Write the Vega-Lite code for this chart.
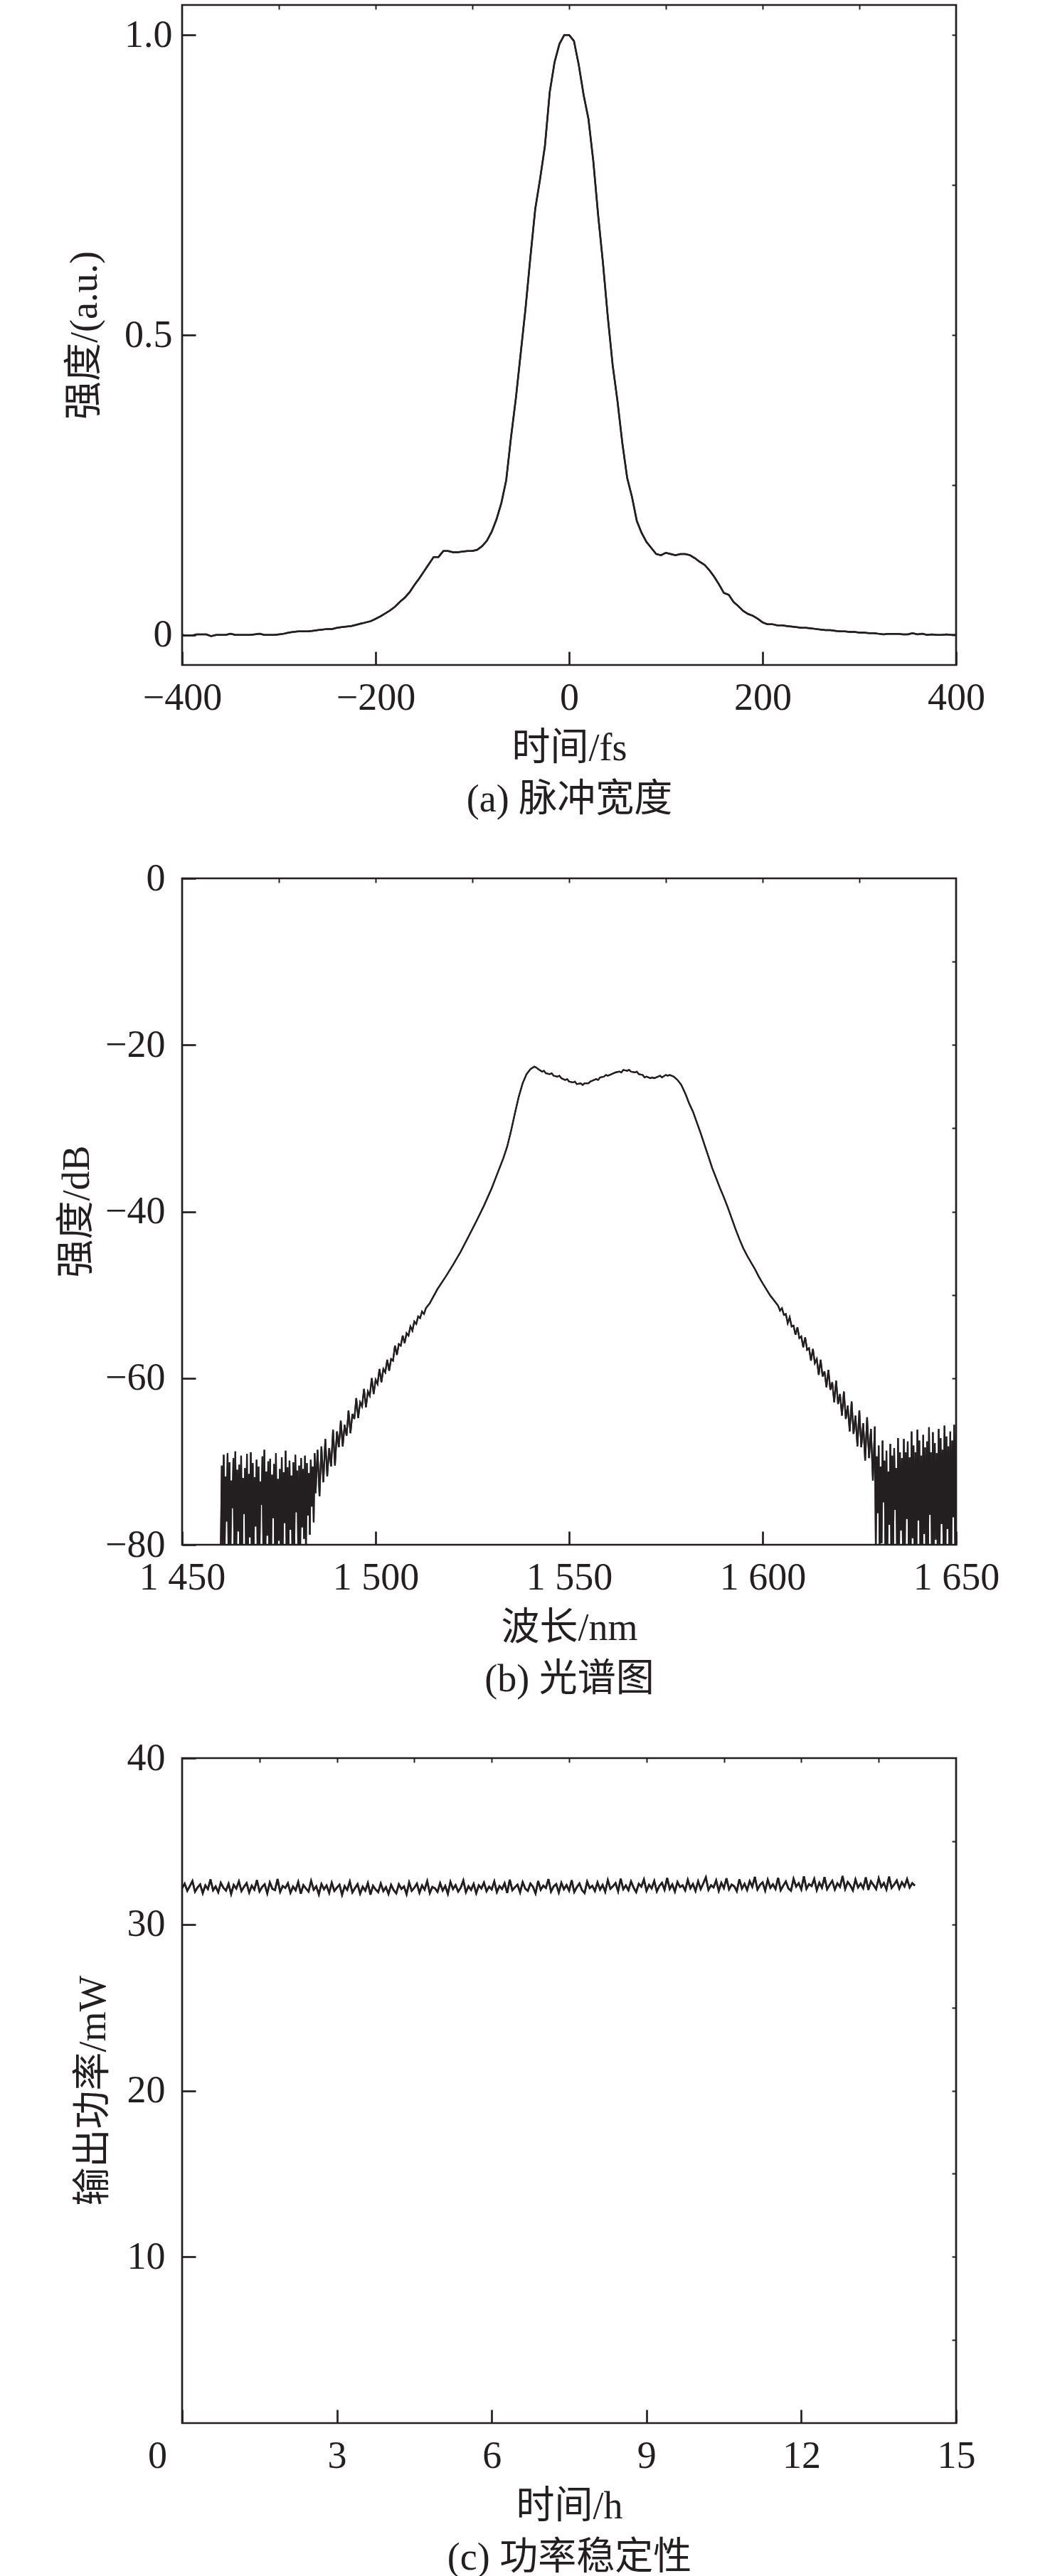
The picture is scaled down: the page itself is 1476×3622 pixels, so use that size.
{
  "$schema": "https://vega.github.io/schema/vega-lite/v6.json",
  "background": "white",
  "padding": {"left": 79, "top": 4, "right": 10, "bottom": 10},
  "config": {
    "view": {"stroke": "#231f20", "strokeWidth": 2.7},
    "line": {"color": "#231f20", "strokeWidth": 2.5},
    "axis": {
      "grid": false,
      "domain": false,
      "tickSize": 19,
      "tickWidth": 2.7,
      "tickColor": "#231f20",
      "labelFont": "Liberation Serif",
      "labelFontSize": 54,
      "labelColor": "#231f20",
      "labelFlush": false,
      "labelOverlap": false,
      "titleFont": "Liberation Serif, Noto Sans CJK SC",
      "titleFontSize": 54,
      "titleFontWeight": "normal",
      "titleColor": "#231f20"
    }
  },
  "datasets": {
    "pulse": [
      {"t":-400,"v":0.000},{"t":-395,"v":-0.001},{"t":-390,"v":-0.001},{"t":-385,"v":0.001},{"t":-380,"v":0.001},{"t":-375,"v":0.001},{"t":-370,"v":-0.002},{"t":-365,"v":0.000},{"t":-360,"v":0.000},{"t":-355,"v":0.000},{"t":-350,"v":0.002},{"t":-345,"v":0.000},{"t":-340,"v":0.000},{"t":-335,"v":0.000},{"t":-330,"v":0.000},{"t":-325,"v":0.001},{"t":-320,"v":0.002},{"t":-315,"v":0.000},{"t":-310,"v":0.000},{"t":-305,"v":0.000},{"t":-300,"v":0.001},{"t":-295,"v":0.002},{"t":-290,"v":0.004},{"t":-285,"v":0.005},{"t":-280,"v":0.006},{"t":-275,"v":0.006},{"t":-270,"v":0.006},{"t":-265,"v":0.007},{"t":-260,"v":0.008},{"t":-255,"v":0.009},{"t":-250,"v":0.010},{"t":-245,"v":0.010},{"t":-240,"v":0.012},{"t":-235,"v":0.013},{"t":-230,"v":0.014},{"t":-225,"v":0.015},{"t":-220,"v":0.017},{"t":-215,"v":0.019},{"t":-210,"v":0.021},{"t":-205,"v":0.023},{"t":-200,"v":0.027},{"t":-195,"v":0.031},{"t":-190,"v":0.036},{"t":-185,"v":0.041},{"t":-180,"v":0.047},{"t":-175,"v":0.055},{"t":-170,"v":0.062},{"t":-165,"v":0.071},{"t":-160,"v":0.083},{"t":-155,"v":0.094},{"t":-150,"v":0.106},{"t":-145,"v":0.118},{"t":-140,"v":0.130},{"t":-135,"v":0.130},{"t":-130,"v":0.140},{"t":-125,"v":0.140},{"t":-120,"v":0.138},{"t":-115,"v":0.138},{"t":-110,"v":0.139},{"t":-105,"v":0.140},{"t":-100,"v":0.140},{"t":-95,"v":0.142},{"t":-90,"v":0.148},{"t":-85,"v":0.157},{"t":-80,"v":0.172},{"t":-75,"v":0.193},{"t":-70,"v":0.220},{"t":-65,"v":0.258},{"t":-60,"v":0.330},{"t":-55,"v":0.395},{"t":-50,"v":0.470},{"t":-45,"v":0.545},{"t":-40,"v":0.630},{"t":-35,"v":0.710},{"t":-30,"v":0.760},{"t":-25,"v":0.815},{"t":-20,"v":0.905},{"t":-15,"v":0.955},{"t":-10,"v":0.985},{"t":-5,"v":1.000},{"t":0,"v":1.000},{"t":5,"v":0.990},{"t":10,"v":0.950},{"t":15,"v":0.900},{"t":20,"v":0.860},{"t":25,"v":0.790},{"t":30,"v":0.700},{"t":35,"v":0.620},{"t":40,"v":0.530},{"t":45,"v":0.450},{"t":50,"v":0.390},{"t":55,"v":0.320},{"t":60,"v":0.262},{"t":65,"v":0.230},{"t":70,"v":0.190},{"t":75,"v":0.170},{"t":80,"v":0.155},{"t":85,"v":0.145},{"t":90,"v":0.135},{"t":95,"v":0.133},{"t":100,"v":0.137},{"t":105,"v":0.135},{"t":110,"v":0.133},{"t":115,"v":0.135},{"t":120,"v":0.135},{"t":125,"v":0.133},{"t":130,"v":0.128},{"t":135,"v":0.122},{"t":140,"v":0.117},{"t":145,"v":0.108},{"t":150,"v":0.097},{"t":155,"v":0.084},{"t":160,"v":0.070},{"t":165,"v":0.067},{"t":170,"v":0.055},{"t":175,"v":0.048},{"t":180,"v":0.040},{"t":185,"v":0.035},{"t":190,"v":0.032},{"t":195,"v":0.027},{"t":200,"v":0.021},{"t":205,"v":0.018},{"t":210,"v":0.018},{"t":215,"v":0.016},{"t":220,"v":0.016},{"t":225,"v":0.015},{"t":230,"v":0.014},{"t":235,"v":0.013},{"t":240,"v":0.012},{"t":245,"v":0.012},{"t":250,"v":0.011},{"t":255,"v":0.010},{"t":260,"v":0.009},{"t":265,"v":0.008},{"t":270,"v":0.008},{"t":275,"v":0.007},{"t":280,"v":0.006},{"t":285,"v":0.006},{"t":290,"v":0.005},{"t":295,"v":0.005},{"t":300,"v":0.004},{"t":305,"v":0.004},{"t":310,"v":0.003},{"t":315,"v":0.003},{"t":320,"v":0.002},{"t":325,"v":0.001},{"t":330,"v":0.002},{"t":335,"v":0.002},{"t":340,"v":0.002},{"t":345,"v":0.001},{"t":350,"v":0.001},{"t":355,"v":0.003},{"t":360,"v":0.001},{"t":365,"v":0.002},{"t":370,"v":0.000},{"t":375,"v":0.001},{"t":380,"v":0.000},{"t":385,"v":0.000},{"t":390,"v":0.001},{"t":395,"v":0.000},{"t":400,"v":0.000}
    ],
    "spectrum": [
      {"nm":1460,"db":-80.2},{"nm":1460.25,"db":-70.5},{"nm":1460.5,"db":-81},{"nm":1460.75,"db":-69.2},{"nm":1461,"db":-80.5},{"nm":1461.25,"db":-71.8},{"nm":1461.5,"db":-77.2},{"nm":1461.75,"db":-69.0},{"nm":1462,"db":-82},{"nm":1462.25,"db":-70.1},{"nm":1462.5,"db":-80.8},{"nm":1462.75,"db":-72.3},{"nm":1463,"db":-75.6},{"nm":1463.25,"db":-69.6},{"nm":1463.5,"db":-81.5},{"nm":1463.75,"db":-68.8},{"nm":1464,"db":-80.2},{"nm":1464.25,"db":-71.0},{"nm":1464.5,"db":-78.4},{"nm":1464.75,"db":-70.4},{"nm":1465,"db":-82},{"nm":1465.25,"db":-69.3},{"nm":1465.5,"db":-81},{"nm":1465.75,"db":-72.0},{"nm":1466,"db":-76.3},{"nm":1466.25,"db":-70.8},{"nm":1466.5,"db":-80.6},{"nm":1466.75,"db":-69.1},{"nm":1467,"db":-81.8},{"nm":1467.25,"db":-71.5},{"nm":1467.5,"db":-79.1},{"nm":1467.75,"db":-68.9},{"nm":1468,"db":-82},{"nm":1468.25,"db":-70.2},{"nm":1468.5,"db":-80.3},{"nm":1468.75,"db":-71.9},{"nm":1469,"db":-77.8},{"nm":1469.25,"db":-69.8},{"nm":1469.5,"db":-81.2},{"nm":1469.75,"db":-70.6},{"nm":1470,"db":-80.9},{"nm":1470.25,"db":-72.4},{"nm":1470.5,"db":-75.2},{"nm":1470.75,"db":-69.4},{"nm":1471,"db":-81.6},{"nm":1471.25,"db":-68.6},{"nm":1471.5,"db":-82},{"nm":1471.75,"db":-71.2},{"nm":1472,"db":-78.9},{"nm":1472.25,"db":-70.0},{"nm":1472.5,"db":-80.4},{"nm":1472.75,"db":-69.7},{"nm":1473,"db":-81.3},{"nm":1473.25,"db":-71.6},{"nm":1473.5,"db":-76.8},{"nm":1473.75,"db":-70.3},{"nm":1474,"db":-80.7},{"nm":1474.25,"db":-69.0},{"nm":1474.5,"db":-82},{"nm":1474.75,"db":-72.1},{"nm":1475,"db":-79.5},{"nm":1475.25,"db":-70.9},{"nm":1475.5,"db":-81.1},{"nm":1475.75,"db":-69.5},{"nm":1476,"db":-80.2},{"nm":1476.25,"db":-71.3},{"nm":1476.5,"db":-77.4},{"nm":1476.75,"db":-68.7},{"nm":1477,"db":-81.9},{"nm":1477.25,"db":-70.7},{"nm":1477.5,"db":-80.5},{"nm":1477.75,"db":-69.9},{"nm":1478,"db":-78.2},{"nm":1478.25,"db":-71.7},{"nm":1478.5,"db":-81.4},{"nm":1478.75,"db":-70.1},{"nm":1479,"db":-80.1},{"nm":1479.25,"db":-69.2},{"nm":1479.5,"db":-76.1},{"nm":1479.75,"db":-71.1},{"nm":1480,"db":-80.8},{"nm":1480.25,"db":-70.5},{"nm":1480.5,"db":-81.7},{"nm":1480.75,"db":-69.6},{"nm":1481,"db":-77.9},{"nm":1481.25,"db":-70.9},{"nm":1481.5,"db":-79.3},{"nm":1481.75,"db":-69.3},{"nm":1482,"db":-80.6},{"nm":1482.25,"db":-70.2},{"nm":1482.5,"db":-76.5},{"nm":1482.75,"db":-71.4},{"nm":1483,"db":-78.8},{"nm":1483.25,"db":-69.8},{"nm":1483.5,"db":-75.4},{"nm":1483.75,"db":-70.6},{"nm":1484,"db":-77.3},{"nm":1484.25,"db":-69.0},
      {"nm":1484.5,"db":-73.8},{"nm":1485,"db":-68.6},{"nm":1485.5,"db":-74.2},{"nm":1486,"db":-68.2},{"nm":1486.5,"db":-72.5},{"nm":1487,"db":-67.3},{"nm":1487.5,"db":-71.8},{"nm":1488,"db":-68.4},{"nm":1488.5,"db":-70.6},{"nm":1489,"db":-66.2},{"nm":1489.5,"db":-70.5},{"nm":1490,"db":-66.4},{"nm":1490.5,"db":-68.3},{"nm":1491,"db":-65.1},{"nm":1491.5,"db":-68.2},{"nm":1492,"db":-65.6},{"nm":1492.5,"db":-66.9},{"nm":1493,"db":-63.9},{"nm":1493.5,"db":-66.6},{"nm":1494,"db":-64.3},{"nm":1494.5,"db":-64.9},{"nm":1495,"db":-62.4},{"nm":1495.5,"db":-64.8},{"nm":1496,"db":-62.9},{"nm":1496.5,"db":-63.4},{"nm":1497,"db":-61.3},{"nm":1497.5,"db":-63.5},{"nm":1498,"db":-61.6},{"nm":1498.5,"db":-62.1},{"nm":1499,"db":-60.0},{"nm":1499.5,"db":-61.9},{"nm":1500,"db":-60.2},{"nm":1500.5,"db":-60.7},{"nm":1501,"db":-58.9},{"nm":1501.5,"db":-60.5},{"nm":1502,"db":-58.9},{"nm":1502.5,"db":-59.3},{"nm":1503,"db":-57.8},{"nm":1503.5,"db":-59.1},{"nm":1504,"db":-57.7},{"nm":1504.5,"db":-57.9},{"nm":1505,"db":-56.1},{"nm":1505.5,"db":-57.2},{"nm":1506,"db":-55.9},{"nm":1506.5,"db":-56.1},{"nm":1507,"db":-54.9},{"nm":1507.5,"db":-55.8},{"nm":1508,"db":-54.6},{"nm":1508.5,"db":-54.9},{"nm":1509,"db":-53.8},{"nm":1509.5,"db":-54.3},{"nm":1510,"db":-53.2},{"nm":1510.5,"db":-53.5},{"nm":1511,"db":-52.6},{"nm":1511.5,"db":-52.8},{"nm":1512,"db":-52.0},{"nm":1512.5,"db":-52.3},{"nm":1513,"db":-51.6},{"nm":1514,"db":-51.0},
      {"nm":1516,"db":-49.3},{"nm":1518,"db":-47.9},{"nm":1520,"db":-46.4},{"nm":1522,"db":-44.8},{"nm":1524,"db":-43.0},{"nm":1526,"db":-41.2},{"nm":1528,"db":-39.3},{"nm":1530,"db":-37.2},{"nm":1531,"db":-36.0},{"nm":1532,"db":-34.8},{"nm":1533,"db":-33.6},{"nm":1534,"db":-32.2},{"nm":1535,"db":-30.3},{"nm":1536,"db":-28.2},{"nm":1537,"db":-26.2},{"nm":1538,"db":-24.6},{"nm":1539,"db":-23.5},{"nm":1540,"db":-22.9},{"nm":1541,"db":-22.6},{"nm":1541.5,"db":-22.7},{"nm":1542,"db":-22.9},{"nm":1543,"db":-23.2},{"nm":1543.5,"db":-23.1},{"nm":1544,"db":-23.4},{"nm":1545,"db":-23.5},{"nm":1545.5,"db":-23.4},{"nm":1546,"db":-23.7},{"nm":1547,"db":-23.8},{"nm":1547.5,"db":-23.7},{"nm":1548,"db":-24.0},{"nm":1549,"db":-24.2},{"nm":1549.5,"db":-24.1},{"nm":1550,"db":-24.4},{"nm":1551,"db":-24.5},{"nm":1551.5,"db":-24.4},{"nm":1552,"db":-24.7},{"nm":1553,"db":-24.6},{"nm":1553.5,"db":-24.8},{"nm":1554,"db":-24.6},{"nm":1555,"db":-24.6},{"nm":1555.5,"db":-24.4},{"nm":1556,"db":-24.3},{"nm":1557,"db":-24.1},{"nm":1557.5,"db":-24.2},{"nm":1558,"db":-23.9},{"nm":1559,"db":-23.8},{"nm":1559.5,"db":-23.6},{"nm":1560,"db":-23.7},{"nm":1561,"db":-23.5},{"nm":1561.5,"db":-23.4},{"nm":1562,"db":-23.3},{"nm":1563,"db":-23.2},{"nm":1563.5,"db":-23.3},{"nm":1564,"db":-23.0},{"nm":1565,"db":-23.1},{"nm":1565.5,"db":-23.0},{"nm":1566,"db":-23.2},{"nm":1567,"db":-23.3},{"nm":1567.5,"db":-23.2},{"nm":1568,"db":-23.5},{"nm":1569,"db":-23.6},{"nm":1569.5,"db":-23.9},{"nm":1570,"db":-23.8},{"nm":1571,"db":-24.0},{"nm":1571.5,"db":-23.9},{"nm":1572,"db":-24.0},{"nm":1573,"db":-23.8},{"nm":1573.5,"db":-23.7},{"nm":1574,"db":-23.9},{"nm":1575,"db":-23.6},{"nm":1575.5,"db":-23.7},{"nm":1576,"db":-23.6},{"nm":1577,"db":-23.8},{"nm":1578,"db":-24.2},{"nm":1579,"db":-24.8},{"nm":1580,"db":-25.8},{"nm":1581,"db":-27.0},{"nm":1582,"db":-28.0},{"nm":1583,"db":-29.3},{"nm":1584,"db":-30.6},{"nm":1585,"db":-32.0},{"nm":1586,"db":-33.4},{"nm":1587,"db":-34.8},{"nm":1588,"db":-36.0},{"nm":1589,"db":-37.2},{"nm":1590,"db":-38.3},{"nm":1591,"db":-39.5},{"nm":1592,"db":-40.8},{"nm":1593,"db":-42.1},{"nm":1594,"db":-43.3},{"nm":1595,"db":-44.4},{"nm":1596,"db":-45.3},{"nm":1597,"db":-46.1},{"nm":1598,"db":-46.9},{"nm":1599,"db":-47.8},{"nm":1600,"db":-48.6},{"nm":1602,"db":-50.1},{"nm":1604,"db":-51.3},
      {"nm":1604.5,"db":-51.9},{"nm":1605,"db":-51.6},{"nm":1605.5,"db":-52.4},{"nm":1606,"db":-52.3},{"nm":1606.5,"db":-53.4},{"nm":1607,"db":-52.7},{"nm":1607.5,"db":-53.8},{"nm":1608,"db":-53.7},{"nm":1608.5,"db":-54.8},{"nm":1609,"db":-53.9},{"nm":1609.5,"db":-55.2},{"nm":1610,"db":-55.0},{"nm":1610.5,"db":-56.3},{"nm":1611,"db":-55.1},{"nm":1611.5,"db":-56.6},{"nm":1612,"db":-56.4},{"nm":1612.5,"db":-57.9},{"nm":1613,"db":-56.5},{"nm":1613.5,"db":-58.2},{"nm":1614,"db":-57.7},{"nm":1614.5,"db":-59.6},{"nm":1615,"db":-57.8},{"nm":1615.5,"db":-59.8},{"nm":1616,"db":-59.2},{"nm":1616.5,"db":-61.1},{"nm":1617,"db":-59.0},{"nm":1617.5,"db":-61.4},{"nm":1618,"db":-60.5},{"nm":1618.5,"db":-62.9},{"nm":1619,"db":-60.3},{"nm":1619.5,"db":-63.1},{"nm":1620,"db":-61.9},{"nm":1620.5,"db":-64.5},{"nm":1621,"db":-61.6},{"nm":1621.5,"db":-64.9},{"nm":1622,"db":-63.3},{"nm":1622.5,"db":-66.4},{"nm":1623,"db":-62.8},{"nm":1623.5,"db":-66.7},{"nm":1624,"db":-64.5},{"nm":1624.5,"db":-68.2},{"nm":1625,"db":-63.9},{"nm":1625.5,"db":-68.3},{"nm":1626,"db":-65.4},{"nm":1626.5,"db":-69.9},{"nm":1627,"db":-64.7},{"nm":1627.5,"db":-69.6},{"nm":1628,"db":-66.1},{"nm":1628.5,"db":-72.3},{"nm":1629,"db":-65.8},
      {"nm":1629.25,"db":-80.5},{"nm":1629.5,"db":-69.4},{"nm":1629.75,"db":-76.2},{"nm":1630,"db":-68.1},{"nm":1630.25,"db":-81.3},{"nm":1630.5,"db":-70.6},{"nm":1630.75,"db":-79.8},{"nm":1631,"db":-67.5},{"nm":1631.25,"db":-74.9},{"nm":1631.5,"db":-69.9},{"nm":1631.75,"db":-82},{"nm":1632,"db":-68.7},{"nm":1632.25,"db":-80.4},{"nm":1632.5,"db":-71.2},{"nm":1632.75,"db":-77.6},{"nm":1633,"db":-67.9},{"nm":1633.25,"db":-81.1},{"nm":1633.5,"db":-69.3},{"nm":1633.75,"db":-80.2},{"nm":1634,"db":-68.4},{"nm":1634.25,"db":-75.8},{"nm":1634.5,"db":-70.8},{"nm":1634.75,"db":-81.7},{"nm":1635,"db":-67.2},{"nm":1635.25,"db":-82},{"nm":1635.5,"db":-68.9},{"nm":1635.75,"db":-78.3},{"nm":1636,"db":-69.6},{"nm":1636.25,"db":-80.6},{"nm":1636.5,"db":-67.3},{"nm":1636.75,"db":-81.4},{"nm":1637,"db":-68.9},{"nm":1637.25,"db":-76.9},{"nm":1637.5,"db":-67.6},{"nm":1637.75,"db":-80.1},{"nm":1638,"db":-69.5},{"nm":1638.25,"db":-82},{"nm":1638.5,"db":-66.4},{"nm":1638.75,"db":-79.2},{"nm":1639,"db":-68.1},{"nm":1639.25,"db":-80.8},{"nm":1639.5,"db":-68.9},{"nm":1639.75,"db":-81.5},{"nm":1640,"db":-66.2},{"nm":1640.25,"db":-77.1},{"nm":1640.5,"db":-67.5},{"nm":1640.75,"db":-80.3},{"nm":1641,"db":-69.3},{"nm":1641.25,"db":-81.9},{"nm":1641.5,"db":-66.8},{"nm":1641.75,"db":-78.7},{"nm":1642,"db":-68.3},{"nm":1642.25,"db":-80.5},{"nm":1642.5,"db":-67.6},{"nm":1642.75,"db":-82},{"nm":1643,"db":-65.9},{"nm":1643.25,"db":-76.4},{"nm":1643.5,"db":-68.9},{"nm":1643.75,"db":-81.2},{"nm":1644,"db":-66.5},{"nm":1644.25,"db":-80.7},{"nm":1644.5,"db":-67.8},{"nm":1644.75,"db":-79.4},{"nm":1645,"db":-69.0},{"nm":1645.25,"db":-81.8},{"nm":1645.5,"db":-66.1},{"nm":1645.75,"db":-80.2},{"nm":1646,"db":-67.2},{"nm":1646.25,"db":-77.5},{"nm":1646.5,"db":-68.6},{"nm":1646.75,"db":-81.1},{"nm":1647,"db":-65.7},{"nm":1647.25,"db":-82},{"nm":1647.5,"db":-67.0},{"nm":1647.75,"db":-78.1},{"nm":1648,"db":-68.2},{"nm":1648.25,"db":-80.9},{"nm":1648.5,"db":-66.4},{"nm":1648.75,"db":-81.6},{"nm":1649,"db":-67.5},{"nm":1649.25,"db":-76.7},{"nm":1649.5,"db":-65.6},{"nm":1649.75,"db":-80.4},{"nm":1650,"db":-66.8}
    ],
    "power": [
      {"h":0,"mw":32.18},{"h":0.05,"mw":32.45},{"h":0.1,"mw":32.02},{"h":0.15,"mw":32.30},{"h":0.2,"mw":32.61},{"h":0.25,"mw":31.96},{"h":0.3,"mw":32.22},{"h":0.35,"mw":32.40},{"h":0.4,"mw":31.88},{"h":0.45,"mw":32.35},{"h":0.5,"mw":32.12},{"h":0.55,"mw":32.70},{"h":0.6,"mw":32.05},{"h":0.65,"mw":32.28},{"h":0.7,"mw":31.93},{"h":0.75,"mw":32.50},{"h":0.8,"mw":32.20},{"h":0.85,"mw":32.03},{"h":0.9,"mw":32.44},{"h":0.95,"mw":31.82},{"h":1,"mw":32.37},{"h":1.05,"mw":32.15},{"h":1.1,"mw":32.58},{"h":1.15,"mw":32.00},{"h":1.2,"mw":32.26},{"h":1.25,"mw":32.48},{"h":1.3,"mw":31.91},{"h":1.35,"mw":32.33},{"h":1.4,"mw":32.09},{"h":1.45,"mw":32.66},{"h":1.5,"mw":31.98},{"h":1.55,"mw":32.24},{"h":1.6,"mw":32.41},{"h":1.65,"mw":31.87},{"h":1.7,"mw":32.52},{"h":1.75,"mw":32.14},{"h":1.8,"mw":32.06},{"h":1.85,"mw":32.73},{"h":1.9,"mw":31.95},{"h":1.95,"mw":32.31},{"h":2,"mw":32.19},
      {"h":2.05,"mw":32.47},{"h":2.1,"mw":31.90},{"h":2.15,"mw":32.27},{"h":2.2,"mw":32.05},{"h":2.25,"mw":32.55},{"h":2.3,"mw":31.84},{"h":2.35,"mw":32.36},{"h":2.4,"mw":32.16},{"h":2.45,"mw":31.97},{"h":2.5,"mw":32.62},{"h":2.55,"mw":32.08},{"h":2.6,"mw":32.29},{"h":2.65,"mw":31.80},{"h":2.7,"mw":32.43},{"h":2.75,"mw":32.11},{"h":2.8,"mw":32.34},{"h":2.85,"mw":31.89},{"h":2.9,"mw":32.50},{"h":2.95,"mw":32.01},{"h":3,"mw":32.21},{"h":3.05,"mw":32.39},{"h":3.1,"mw":31.77},{"h":3.15,"mw":32.30},{"h":3.2,"mw":32.07},{"h":3.25,"mw":32.57},{"h":3.3,"mw":31.92},{"h":3.35,"mw":32.18},{"h":3.4,"mw":32.42},{"h":3.45,"mw":31.85},{"h":3.5,"mw":32.26},{"h":3.55,"mw":32.03},{"h":3.6,"mw":32.49},{"h":3.65,"mw":31.79},{"h":3.7,"mw":32.32},{"h":3.75,"mw":32.10},{"h":3.8,"mw":31.94},{"h":3.85,"mw":32.46},{"h":3.9,"mw":32.00},{"h":3.95,"mw":32.24},{"h":4,"mw":31.83},
      {"h":4.05,"mw":32.38},{"h":4.1,"mw":32.06},{"h":4.15,"mw":31.86},{"h":4.2,"mw":32.41},{"h":4.25,"mw":32.13},{"h":4.3,"mw":32.28},{"h":4.35,"mw":31.81},{"h":4.4,"mw":32.52},{"h":4.45,"mw":32.02},{"h":4.5,"mw":32.20},{"h":4.55,"mw":32.45},{"h":4.6,"mw":31.90},{"h":4.65,"mw":32.34},{"h":4.7,"mw":32.09},{"h":4.75,"mw":32.60},{"h":4.8,"mw":31.88},{"h":4.85,"mw":32.25},{"h":4.9,"mw":32.17},{"h":4.95,"mw":31.95},{"h":5,"mw":32.48},{"h":5.05,"mw":32.04},{"h":5.1,"mw":32.31},{"h":5.15,"mw":31.84},{"h":5.2,"mw":32.55},{"h":5.25,"mw":32.12},{"h":5.3,"mw":32.36},{"h":5.35,"mw":31.97},{"h":5.4,"mw":32.21},{"h":5.45,"mw":32.64},{"h":5.5,"mw":31.93},{"h":5.55,"mw":32.29},{"h":5.6,"mw":32.07},{"h":5.65,"mw":32.43},{"h":5.7,"mw":31.87},{"h":5.75,"mw":32.35},{"h":5.8,"mw":32.16},{"h":5.85,"mw":32.51},{"h":5.9,"mw":31.99},{"h":5.95,"mw":32.27},{"h":6,"mw":32.10},
      {"h":6.05,"mw":32.58},{"h":6.1,"mw":31.94},{"h":6.15,"mw":32.30},{"h":6.2,"mw":32.12},{"h":6.25,"mw":32.47},{"h":6.3,"mw":31.89},{"h":6.35,"mw":32.68},{"h":6.4,"mw":32.05},{"h":6.45,"mw":32.23},{"h":6.5,"mw":32.39},{"h":6.55,"mw":31.92},{"h":6.6,"mw":32.54},{"h":6.65,"mw":32.15},{"h":6.7,"mw":32.01},{"h":6.75,"mw":32.45},{"h":6.8,"mw":32.26},{"h":6.85,"mw":31.86},{"h":6.9,"mw":32.61},{"h":6.95,"mw":32.08},{"h":7,"mw":32.33},{"h":7.05,"mw":32.19},{"h":7.1,"mw":32.72},{"h":7.15,"mw":31.97},{"h":7.2,"mw":32.28},{"h":7.25,"mw":32.42},{"h":7.3,"mw":31.91},{"h":7.35,"mw":32.50},{"h":7.4,"mw":32.11},{"h":7.45,"mw":32.36},{"h":7.5,"mw":32.03},{"h":7.55,"mw":32.65},{"h":7.6,"mw":31.95},{"h":7.65,"mw":32.24},{"h":7.7,"mw":32.46},{"h":7.75,"mw":32.06},{"h":7.8,"mw":31.88},{"h":7.85,"mw":32.57},{"h":7.9,"mw":32.18},{"h":7.95,"mw":32.32},{"h":8,"mw":32.00},
      {"h":8.05,"mw":32.53},{"h":8.1,"mw":32.09},{"h":8.15,"mw":32.37},{"h":8.2,"mw":31.96},{"h":8.25,"mw":32.66},{"h":8.3,"mw":32.14},{"h":8.35,"mw":32.29},{"h":8.4,"mw":32.48},{"h":8.45,"mw":31.99},{"h":8.5,"mw":32.75},{"h":8.55,"mw":32.11},{"h":8.6,"mw":32.34},{"h":8.65,"mw":32.05},{"h":8.7,"mw":32.58},{"h":8.75,"mw":32.21},{"h":8.8,"mw":31.94},{"h":8.85,"mw":32.44},{"h":8.9,"mw":32.27},{"h":8.95,"mw":32.70},{"h":9,"mw":32.02},{"h":9.05,"mw":32.38},{"h":9.1,"mw":32.16},{"h":9.15,"mw":32.61},{"h":9.2,"mw":31.98},{"h":9.25,"mw":32.31},{"h":9.3,"mw":32.50},{"h":9.35,"mw":32.08},{"h":9.4,"mw":32.79},{"h":9.45,"mw":32.13},{"h":9.5,"mw":32.40},{"h":9.55,"mw":31.97},{"h":9.6,"mw":32.55},{"h":9.65,"mw":32.24},{"h":9.7,"mw":32.35},{"h":9.75,"mw":32.04},{"h":9.8,"mw":32.68},{"h":9.85,"mw":32.17},{"h":9.9,"mw":32.43},{"h":9.95,"mw":32.01},{"h":10,"mw":32.59},
      {"h":10.05,"mw":32.12},{"h":10.1,"mw":32.46},{"h":10.15,"mw":32.83},{"h":10.2,"mw":32.07},{"h":10.25,"mw":32.35},{"h":10.3,"mw":32.22},{"h":10.35,"mw":32.64},{"h":10.4,"mw":32.01},{"h":10.45,"mw":32.50},{"h":10.5,"mw":32.18},{"h":10.55,"mw":32.77},{"h":10.6,"mw":32.10},{"h":10.65,"mw":32.39},{"h":10.7,"mw":32.29},{"h":10.75,"mw":31.99},{"h":10.8,"mw":32.71},{"h":10.85,"mw":32.15},{"h":10.9,"mw":32.44},{"h":10.95,"mw":32.06},{"h":11,"mw":32.60},{"h":11.05,"mw":32.26},{"h":11.1,"mw":32.85},{"h":11.15,"mw":32.09},{"h":11.2,"mw":32.37},{"h":11.25,"mw":32.53},{"h":11.3,"mw":32.03},{"h":11.35,"mw":32.68},{"h":11.4,"mw":32.20},{"h":11.45,"mw":32.41},{"h":11.5,"mw":32.12},{"h":11.55,"mw":32.80},{"h":11.6,"mw":32.05},{"h":11.65,"mw":32.33},{"h":11.7,"mw":32.58},{"h":11.75,"mw":32.16},{"h":11.8,"mw":32.02},{"h":11.85,"mw":32.74},{"h":11.9,"mw":32.27},{"h":11.95,"mw":32.48},{"h":12,"mw":32.10},
      {"h":12.05,"mw":32.89},{"h":12.1,"mw":32.14},{"h":12.15,"mw":32.42},{"h":12.2,"mw":32.30},{"h":12.25,"mw":32.73},{"h":12.3,"mw":32.06},{"h":12.35,"mw":32.51},{"h":12.4,"mw":32.20},{"h":12.45,"mw":32.84},{"h":12.5,"mw":32.11},{"h":12.55,"mw":32.38},{"h":12.6,"mw":32.62},{"h":12.65,"mw":32.09},{"h":12.7,"mw":32.47},{"h":12.75,"mw":32.26},{"h":12.8,"mw":32.91},{"h":12.85,"mw":32.13},{"h":12.9,"mw":32.55},{"h":12.95,"mw":32.34},{"h":13,"mw":32.04},{"h":13.05,"mw":32.70},{"h":13.1,"mw":32.22},{"h":13.15,"mw":32.45},{"h":13.2,"mw":32.17},{"h":13.25,"mw":32.82},{"h":13.3,"mw":32.08},{"h":13.35,"mw":32.59},{"h":13.4,"mw":32.36},{"h":13.45,"mw":32.12},{"h":13.5,"mw":32.77},{"h":13.55,"mw":32.25},{"h":13.6,"mw":32.49},{"h":13.65,"mw":32.10},{"h":13.7,"mw":32.87},{"h":13.75,"mw":32.19},{"h":13.8,"mw":32.40},{"h":13.85,"mw":32.64},{"h":13.9,"mw":32.15},{"h":13.95,"mw":32.53},{"h":14,"mw":32.28},{"h":14.05,"mw":32.72},{"h":14.1,"mw":32.21},{"h":14.15,"mw":32.48},{"h":14.2,"mw":32.33}
    ]
  },
  "bounds": "flush",
  "spacing": 300,
  "vconcat": [
    {
      "width": 1088,
      "height": 928,
      "layer": [
        {
          "data": {"name": "pulse"},
          "mark": {"type": "line"},
          "encoding": {
            "x": {
              "field": "t", "type": "quantitative",
              "scale": {"domain": [-400, 400], "nice": false, "zero": false},
              "axis": {
                "orient": "bottom", "offset": -19, "values": [-400, -200, 0, 200, 400], "labelPadding": 19,
                "title": ["时间/fs", "(a) 脉冲宽度"], "titleY": 136, "titleBaseline": "middle", "titleLineHeight": 72
              }
            },
            "y": {
              "field": "v", "type": "quantitative",
              "scale": {"domain": [-0.05, 1.05], "nice": false, "zero": false},
              "axis": {
                "orient": "left", "offset": -19, "values": [0, 0.5, 1], "labelPadding": 14,
                "labelExpr": "datum.value === 0 ? '0' : format(datum.value, '.1f')",
                "title": "强度/(a.u.)", "titleX": -156, "titleY": 464, "titleBaseline": "middle"
              }
            }
          }
        },
        {
          "data": {"name": "pulse"},
          "mark": {"type": "line"},
          "encoding": {
            "x": {
              "field": "t", "type": "quantitative",
              "scale": {"domain": [-400, 400], "nice": false, "zero": false},
              "axis": {"orient": "top", "offset": -6, "values": [-300, -200, -100, 0, 100, 200, 300], "labels": false, "title": null, "tickSize": 6, "tickWidth": 2}
            },
            "y": {
              "field": "v", "type": "quantitative",
              "scale": {"domain": [-0.05, 1.05], "nice": false, "zero": false},
              "axis": {"orient": "right", "offset": -6, "values": [0, 0.25, 0.5, 0.75, 1], "labels": false, "title": null, "tickSize": 6, "tickWidth": 2}
            }
          }
        }
      ],
      "resolve": {"axis": {"x": "independent", "y": "independent"}}
    },
    {
      "width": 1088,
      "height": 937,
      "layer": [
        {
          "data": {"name": "spectrum"},
          "mark": {"type": "line", "clip": true, "strokeWidth": 2.2},
          "encoding": {
            "x": {
              "field": "nm", "type": "quantitative",
              "scale": {"domain": [1450, 1650], "nice": false, "zero": false},
              "axis": {
                "orient": "bottom", "offset": -19, "values": [1450, 1500, 1550, 1600, 1650], "labelPadding": 19,
                "labelExpr": "replace(format(datum.value, ','), ',', ' ')",
                "title": ["波长/nm", "(b) 光谱图"], "titleY": 136, "titleBaseline": "middle", "titleLineHeight": 72
              }
            },
            "y": {
              "field": "db", "type": "quantitative",
              "scale": {"domain": [-80, 0], "nice": false, "zero": false},
              "axis": {
                "orient": "left", "offset": -19, "values": [-80, -60, -40, -20, 0], "labelPadding": 24,
                "title": "强度/dB", "titleX": -167, "titleY": 468, "titleBaseline": "middle"
              }
            }
          }
        },
        {
          "data": {"name": "spectrum"},
          "mark": {"type": "line", "clip": true, "strokeWidth": 2.2},
          "encoding": {
            "x": {
              "field": "nm", "type": "quantitative",
              "scale": {"domain": [1450, 1650], "nice": false, "zero": false},
              "axis": {"orient": "top", "offset": -6, "values": [1475, 1500, 1525, 1550, 1575, 1600, 1625], "labels": false, "title": null, "tickSize": 6, "tickWidth": 2}
            },
            "y": {
              "field": "db", "type": "quantitative",
              "scale": {"domain": [-80, 0], "nice": false, "zero": false},
              "axis": {"orient": "right", "offset": -6, "values": [-70, -60, -50, -40, -30, -20, -10], "labels": false, "title": null, "tickSize": 6, "tickWidth": 2}
            }
          }
        }
      ],
      "resolve": {"axis": {"x": "independent", "y": "independent"}}
    },
    {
      "width": 1088,
      "height": 935,
      "layer": [
        {
          "data": {"name": "power"},
          "mark": {"type": "line", "strokeWidth": 2.6},
          "encoding": {
            "x": {
              "field": "h", "type": "quantitative",
              "scale": {"domain": [0, 15], "nice": false, "zero": false},
              "axis": {
                "orient": "bottom", "offset": -19, "values": [0, 3, 6, 9, 12, 15], "labelPadding": 19,
                "labelOffset": {"condition": {"test": "datum.value === 0", "value": -35}, "value": 0},
                "title": ["时间/h", "(c) 功率稳定性"], "titleY": 136, "titleBaseline": "middle", "titleLineHeight": 72
              }
            },
            "y": {
              "field": "mw", "type": "quantitative",
              "scale": {"domain": [0, 40], "nice": false, "zero": false},
              "axis": {
                "orient": "left", "offset": -19, "values": [10, 20, 30, 40], "labelPadding": 24,
                "title": "输出功率/mW", "titleX": -144, "titleY": 467, "titleBaseline": "middle"
              }
            }
          }
        },
        {
          "data": {"name": "power"},
          "mark": {"type": "line", "strokeWidth": 2.6},
          "encoding": {
            "x": {
              "field": "h", "type": "quantitative",
              "scale": {"domain": [0, 15], "nice": false, "zero": false},
              "axis": {"orient": "top", "offset": -6, "values": [1.5, 3, 4.5, 6, 7.5, 9, 10.5, 12, 13.5], "labels": false, "title": null, "tickSize": 6, "tickWidth": 2}
            },
            "y": {
              "field": "mw", "type": "quantitative",
              "scale": {"domain": [0, 40], "nice": false, "zero": false},
              "axis": {"orient": "right", "offset": -6, "values": [5, 10, 15, 20, 25, 30, 35], "labels": false, "title": null, "tickSize": 6, "tickWidth": 2}
            }
          }
        }
      ],
      "resolve": {"axis": {"x": "independent", "y": "independent"}}
    }
  ]
}
